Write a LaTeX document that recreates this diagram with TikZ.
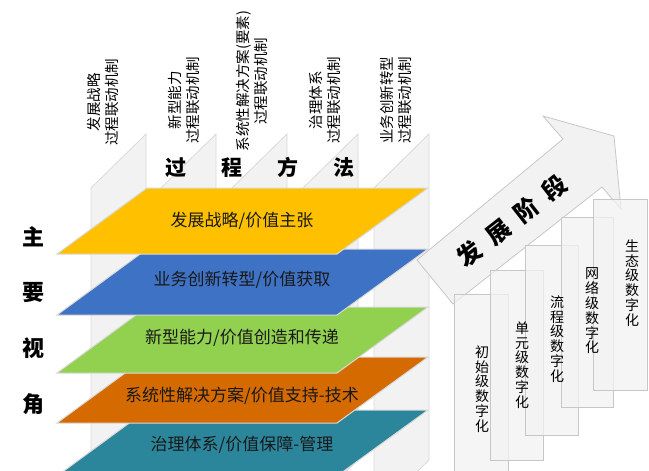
\documentclass[tikz,border=0pt]{standalone}
\usepackage{fontspec}
\setmainfont{Noto Sans CJK SC}
\usepackage{xcolor}
\usepackage{tikz}

\definecolor{planeyellow}{HTML}{FFC000}
\definecolor{planeblue}{HTML}{3E72C4}
\definecolor{planegreen}{HTML}{92D050}
\definecolor{planeorange}{HTML}{D46A00}
\definecolor{planeteal}{HTML}{2B869B}
\definecolor{panelgray}{HTML}{F2F2F2}
\definecolor{edgegray}{HTML}{D9D9D9}

\tikzset{
  panel/.style={fill=panelgray, draw=edgegray, line width=0.8pt},
  plane/.style={draw=edgegray, line width=1pt},
  planelabel/.style={font=\fontsize{17}{20}\selectfont, text=black!90},
  methodlabel/.style={rotate=90, align=center, inner sep=0pt, font=\fontsize{14.5}{18}\selectfont},
  titlelabel/.style={inner sep=0pt, font=\fontsize{21}{24}\selectfont\bfseries},
  viewlabel/.style={inner sep=0pt, font=\fontsize{22}{24}\selectfont\bfseries},
  arrowshape/.style={fill=panelgray, draw=black!22, line width=0.8pt},
  stagebox/.style={fill=panelgray, fill opacity=0.75, draw=black!22, line width=0.8pt},
  stagelabel/.style={align=center, inner sep=0pt, font=\fontsize{14}{14.8}\selectfont},
}

\begin{document}
\begin{tikzpicture}[x=1pt,y=-1pt]
\useasboundingbox (0,0) rectangle (649,471);
\clip (0,0) rectangle (649,471);

\filldraw[panel] (91,188) -- (146,134) -- (146,460) -- (91,514) -- cycle;
\filldraw[panel] (161,188) -- (216,134) -- (216,460) -- (161,514) -- cycle;
\filldraw[panel] (232,188) -- (287,134) -- (287,460) -- (232,514) -- cycle;
\filldraw[panel] (303,188) -- (358,134) -- (358,460) -- (303,514) -- cycle;
\filldraw[panel] (374,188) -- (429,134) -- (429,460) -- (374,514) -- cycle;

\node[methodlabel] (m1) at (103,102) {发展战略\\过程联动机制};
\node[methodlabel] (m2) at (184,100) {新型能力\\过程联动机制};
\node[methodlabel] (m3) at (252,81) {系统性解决方案(要素)\\过程联动机制};
\node[methodlabel] (m4) at (325,100) {治理体系\\过程联动机制};
\node[methodlabel] (m5) at (396,100) {业务创新转型\\过程联动机制};
\node[titlelabel] (method) at (260,167) {过\hspace{35pt}程\hspace{35pt}方\hspace{35pt}法};

\filldraw[plane, fill=planeteal] (147,410) -- (428,410) -- (337,476) -- (57,476) -- cycle;
\filldraw[plane, fill=planeorange] (147,357) -- (428,357) -- (337,423) -- (57,423) -- cycle;
\filldraw[plane, fill=planegreen] (147,307) -- (428,307) -- (337,373) -- (57,373) -- cycle;
\filldraw[plane, fill=planeblue] (147,249) -- (428,249) -- (337,315) -- (57,315) -- cycle;
\filldraw[plane, fill=planeyellow] (147,188) -- (428,188) -- (337,254) -- (57,254) -- cycle;

\node[planelabel] (p1) at (242,221) {发展战略/价值主张};
\node[planelabel] (p2) at (242,280) {业务创新转型/价值获取};
\node[planelabel] (p3) at (242,338) {新型能力/价值创造和传递};
\node[planelabel] (p4) at (242,396) {系统性解决方案/价值支持-技术};
\node[planelabel] (p5) at (242,445) {治理体系/价值保障-管理};

\node[viewlabel] (v1) at (34,237) {主};
\node[viewlabel] (v2) at (34,293) {要};
\node[viewlabel] (v3) at (34,348) {视};
\node[viewlabel] (v4) at (34,404) {角};

\filldraw[arrowshape] (453,304) -- (417,260) -- (563,139) -- (543,116) -- (614,136) -- (621,209) -- (602,187) -- cycle;
\node[viewlabel, rotate=38, font=\fontsize{24}{26}\selectfont\bfseries] (stage) at (512,221) {发\hspace{12pt}展\hspace{12pt}阶\hspace{12pt}段};

\filldraw[stagebox] (454,294) rectangle (508,484);
\filldraw[stagebox] (490,270) rectangle (543,460);
\filldraw[stagebox] (525,245) rectangle (578,435);
\filldraw[stagebox] (561,217) rectangle (613,407);
\filldraw[stagebox] (593,199) rectangle (647,390);

\node[stagelabel] (s1) at (482,389) {初\\始\\级\\数\\字\\化};
\node[stagelabel] (s2) at (522,365) {单\\元\\级\\数\\字\\化};
\node[stagelabel] (s3) at (557,339) {流\\程\\级\\数\\字\\化};
\node[stagelabel] (s4) at (592,311) {网\\络\\级\\数\\字\\化};
\node[stagelabel] (s5) at (632,283) {生\\态\\级\\数\\字\\化};
\end{tikzpicture}
\end{document}
